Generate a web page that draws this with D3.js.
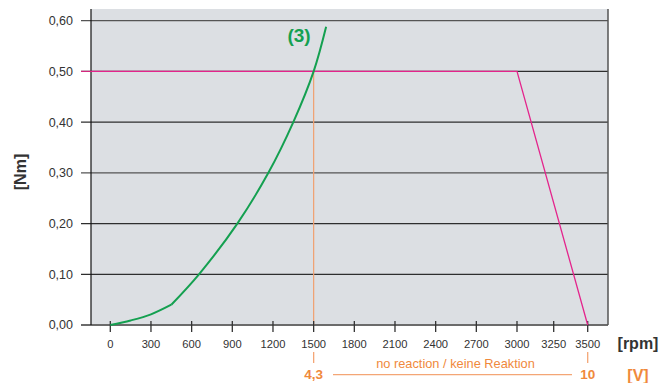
<!DOCTYPE html>
<html lang="de">
<head>
<meta charset="UTF-8" />
<title>Drehmoment / Drehzahl</title>
<script src="https://d3js.org/d3.v7.min.js"></script>
<style>
  body { margin: 0; background: #fff; }
  svg text { font-family: "Liberation Sans", Arial, Helvetica, sans-serif; }
</style>
</head>
<body>
<div id="chart"></div>
<script>
// tick values
const rpmTicks = [0, 300, 600, 900, 1200, 1500, 1800, 2100, 2400, 2700, 3000, 3250, 3500];
const nmTicks = [0, 0.1, 0.2, 0.3, 0.4, 0.5, 0.6];

// curve (3): rpm / Nm, two pieces with a bend near 450 rpm
const curveLowRpm = [0, 150, 300, 450];
const curveLowNm = [0, 0.009, 0.021, 0.040];
const curveHighRpm = [450, 654, 937, 1166, 1350, 1500, 1592];
const curveHighNm = [0.040, 0.10, 0.20, 0.30, 0.40, 0.50, 0.588];

// limit line (magenta)
const limitRpm = [0, 3000, 3500];
const limitNm = [0.5, 0.5, 0];

// voltage markers
const voltRpm = [1500, 3500];
const voltLabels = ["4,3", "10"];

const width = 662, height = 383;
const plot = { left: 91, right: 608, top: 9, bottom: 325 };

const svg = d3.select("#chart").append("svg")
  .attr("width", width)
  .attr("height", height);

// x axis is not evenly spaced above 3000 rpm
const x = d3.scaleLinear()
  .domain([0, 3000, 3250, 3500])
  .range([110.3, 517, 553.7, 587.7]);
const y = d3.scaleLinear()
  .domain([0, 0.6])
  .range([plot.bottom, 20.7]);

const fmt = v => d3.format(".2f")(v).replace(".", ",");

// background
svg.append("rect")
  .attr("x", plot.left).attr("y", plot.top)
  .attr("width", plot.right - plot.left)
  .attr("height", plot.bottom - plot.top)
  .attr("fill", "#dcdfe3");

// horizontal grid lines + y labels
const gy = svg.append("g");
gy.selectAll("line").data(nmTicks).join("line")
  .attr("x1", 81).attr("x2", plot.right)
  .attr("y1", d => y(d)).attr("y2", d => y(d))
  .attr("stroke", d => (d === 0 ? "#6b6b6b" : (d === 0.3 || d === 0.6) ? "#555" : "#2e2e2e"))
  .attr("stroke-width", d => d === 0 ? 2 : 1.2);
gy.selectAll("text").data(nmTicks).join("text")
  .attr("x", 73).attr("y", d => y(d))
  .attr("dy", "0.35em")
  .attr("text-anchor", "end")
  .attr("font-size", 12.5)
  .attr("fill", "#333")
  .text(fmt);

// right border and y axis line
svg.append("line")
  .attr("x1", plot.right).attr("x2", plot.right)
  .attr("y1", plot.top).attr("y2", plot.bottom)
  .attr("stroke", "#555").attr("stroke-width", 1.5);
svg.append("line")
  .attr("x1", plot.left).attr("x2", plot.left)
  .attr("y1", plot.top).attr("y2", plot.bottom)
  .attr("stroke", "#111").attr("stroke-width", 1.2);

// orange line at 1500 rpm
svg.append("line")
  .attr("x1", x(1500)).attr("x2", x(1500))
  .attr("y1", y(0.5)).attr("y2", plot.bottom)
  .attr("stroke", "#f0a070").attr("stroke-width", 1.2);

// x ticks + labels
const gx = svg.append("g");
gx.selectAll("line").data(rpmTicks).join("line")
  .attr("x1", d => x(d)).attr("x2", d => x(d))
  .attr("y1", 321).attr("y2", 332)
  .attr("stroke", "#333").attr("stroke-width", 1.3);
gx.selectAll("text").data(rpmTicks).join("text")
  .attr("x", d => x(d)).attr("y", 348)
  .attr("text-anchor", "middle")
  .attr("font-size", 11.2)
  .attr("fill", "#333")
  .text(d => d);

// magenta limit line
const limitData = limitRpm.map((r, i) => [r, limitNm[i]]);
svg.append("line")
  .attr("x1", 81).attr("x2", plot.left)
  .attr("y1", y(0.5)).attr("y2", y(0.5))
  .attr("stroke", "#d4267e").attr("stroke-width", 1.2);
svg.append("path")
  .datum(limitData)
  .attr("fill", "none")
  .attr("stroke", "#e4248c")
  .attr("stroke-width", 1.3)
  .attr("d", d3.line().x(d => d[0] === 0 ? plot.left : x(d[0])).y(d => y(d[1])));

// green curve (3)
const lineGen = d3.line().x(d => x(d[0])).y(d => y(d[1])).curve(d3.curveCatmullRom.alpha(0.5));
[[curveLowRpm, curveLowNm], [curveHighRpm, curveHighNm]].forEach(([rs, ns]) => {
  svg.append("path")
    .datum(rs.map((r, i) => [r, ns[i]]))
    .attr("fill", "none")
    .attr("stroke", "#14a050")
    .attr("stroke-width", 2)
    .attr("d", lineGen);
});
svg.append("text")
  .attr("x", 299).attr("y", 42)
  .attr("text-anchor", "middle")
  .attr("font-size", 19).attr("font-weight", "bold")
  .attr("fill", "#14a050")
  .text("(3)");

// axis titles
svg.append("text")
  .attr("x", 638).attr("y", 349)
  .attr("text-anchor", "middle")
  .attr("font-size", 16).attr("font-weight", "bold")
  .attr("fill", "#333")
  .text("[rpm]");
svg.append("text")
  .attr("transform", "translate(26,172) rotate(-90)")
  .attr("text-anchor", "middle")
  .attr("font-size", 16).attr("font-weight", "bold")
  .attr("fill", "#333")
  .text("[Nm]");

// voltage row
const orange = "#f0893c";
const gv = svg.append("g");
gv.selectAll("line").data(voltRpm).join("line")
  .attr("x1", d => x(d)).attr("x2", d => x(d))
  .attr("y1", 352).attr("y2", 363)
  .attr("stroke", "#f4a676").attr("stroke-width", 1.3);
gv.selectAll("text").data(voltRpm).join("text")
  .attr("x", d => x(d)).attr("y", 379)
  .attr("text-anchor", "middle")
  .attr("font-size", 13.5).attr("font-weight", "bold")
  .attr("fill", orange)
  .text((d, i) => voltLabels[i]);
svg.append("line")
  .attr("x1", 333).attr("x2", 572)
  .attr("y1", 374.7).attr("y2", 374.7)
  .attr("stroke", "#f4a676").attr("stroke-width", 1.3);
svg.append("text")
  .attr("x", 455.5).attr("y", 368)
  .attr("text-anchor", "middle")
  .attr("font-size", 12.8)
  .attr("fill", orange)
  .text("no reaction / keine Reaktion");
svg.append("text")
  .attr("x", 638).attr("y", 381)
  .attr("text-anchor", "middle")
  .attr("font-size", 16).attr("font-weight", "bold")
  .attr("fill", orange)
  .text("[V]");
</script>
</body>
</html>
